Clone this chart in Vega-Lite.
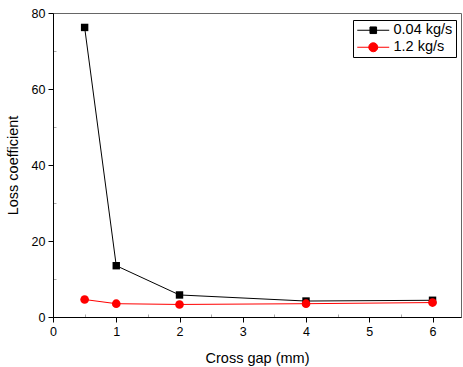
{
  "$schema": "https://vega.github.io/schema/vega-lite/v6.json",
  "autosize": "none",
  "width": 408,
  "height": 304,
  "padding": {"left": 53, "top": 13, "right": 2, "bottom": 50},
  "background": "white",
  "config": {
    "view": {"stroke": "#666666", "strokeWidth": 1},
    "font": "Liberation Sans",
    "axis": {"grid": false, "domainColor": "black", "tickColor": "black", "labelColor": "black", "titleColor": "black", "labelFont": "Liberation Sans", "titleFont": "Liberation Sans", "labelFontSize": 12.5, "titleFontSize": 14.5, "titleFontWeight": "normal", "domainWidth": 1, "tickWidth": 1}
  },
  "data": {
    "values": [
      {"gap": 0.5, "loss": 76.2, "series": "0.04 kg/s"},
      {"gap": 1, "loss": 13.5, "series": "0.04 kg/s"},
      {"gap": 2, "loss": 5.8, "series": "0.04 kg/s"},
      {"gap": 4, "loss": 4.2, "series": "0.04 kg/s"},
      {"gap": 6, "loss": 4.4, "series": "0.04 kg/s"},
      {"gap": 0.5, "loss": 4.6, "series": "1.2 kg/s"},
      {"gap": 1, "loss": 3.5, "series": "1.2 kg/s"},
      {"gap": 2, "loss": 3.3, "series": "1.2 kg/s"},
      {"gap": 4, "loss": 3.5, "series": "1.2 kg/s"},
      {"gap": 6, "loss": 3.8, "series": "1.2 kg/s"}
    ]
  },
  "encoding": {
    "x": {"field": "gap", "type": "quantitative", "scale": {"domain": [0, 6.45], "nice": false, "zero": false},
      "axis": {"title": "Cross gap (mm)", "values": [0, 0.5, 1, 1.5, 2, 2.5, 3, 3.5, 4, 4.5, 5, 5.5, 6], "format": "~g",
        "labelExpr": "datum.value % 1 ? '' : datum.label",
        "tickSize": {"condition": {"test": "datum.value % 1 !== 0", "value": -3}, "value": 5},
        "tickColor": {"condition": {"test": "datum.value % 1 !== 0", "value": "#aaaaaa"}, "value": "black"},
        "labelPadding": 3, "titlePadding": 14, "labelFlush": false}},
    "y": {"field": "loss", "type": "quantitative", "scale": {"domain": [0, 80], "nice": false},
      "axis": {"title": "Loss coefficient", "values": [0, 10, 20, 30, 40, 50, 60, 70, 80],
        "labelExpr": "datum.value % 20 ? '' : datum.label",
        "tickSize": {"condition": {"test": "datum.value % 20 !== 0", "value": -3}, "value": 5},
        "tickColor": {"condition": {"test": "datum.value % 20 !== 0", "value": "#aaaaaa"}, "value": "black"},
        "labelPadding": 3, "titlePadding": 11, "labelFlush": false}},
    "color": {"field": "series", "type": "nominal", "scale": {"domain": ["0.04 kg/s", "1.2 kg/s"], "range": ["#000000", "#ff0000"]},
      "legend": {"title": null, "orient": "none", "legendX": 300, "legendY": 7,
        "strokeColor": "black", "fillColor": "white", "padding": 3,
        "labelFont": "Liberation Sans", "labelFontSize": 14.5, "labelColor": "black",
        "symbolSize": 144, "symbolStrokeWidth": 1, "rowPadding": 2, "labelOffset": 23,
        "encode": {"symbols": {"update": {
          "shape": {"signal": "datum.value === '0.04 kg/s' ? 'M-1,0H4.33M1.12,-0.55H2.22V0.55H1.12Z' : 'M-1,0H4.33M2.42,0A0.75,0.75 0 1,1 0.92,0A0.75,0.75 0 1,1 2.42,0Z'"},
          "fill": {"signal": "datum.value === '0.04 kg/s' ? '#000000' : '#ff0000'"},
          "stroke": {"signal": "datum.value === '0.04 kg/s' ? '#000000' : '#ff0000'"},
          "strokeWidth": {"value": 1},
          "opacity": {"value": 1}
        }}}}}
  },
  "layer": [
    {
      "mark": {"type": "line", "strokeWidth": 1}
    },
    {
      "transform": [{"filter": "datum.series === '0.04 kg/s'"}],
      "mark": {"type": "point", "filled": true, "opacity": 1, "shape": "square", "size": 55}
    },
    {
      "transform": [{"filter": "datum.series === '1.2 kg/s'"}],
      "mark": {"type": "point", "filled": true, "opacity": 1, "shape": "circle", "size": 75}
    }
  ]
}
